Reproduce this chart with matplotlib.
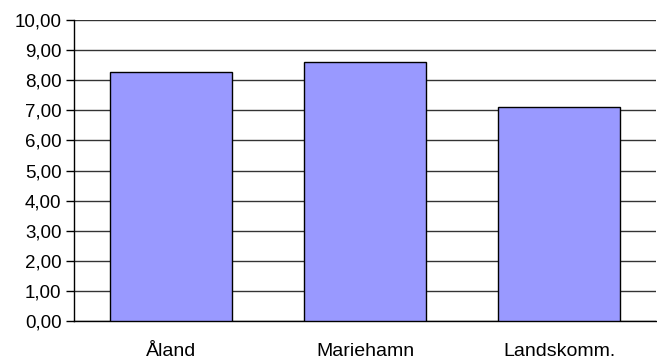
import numpy as np
import matplotlib.pyplot as plt
from matplotlib.ticker import FuncFormatter

# data
categories = ["Åland", "Mariehamn", "Landskomm."]
values = [8.26, 8.61, 7.12]
yticks = np.arange(0, 11, 1)

plt.rcParams['font.family'] = ['Liberation Sans', 'DejaVu Sans']

fig = plt.figure(figsize=(6.57, 3.61), dpi=100)
ax = fig.add_axes([0.1126, 0.1108, 0.8860, 0.8338])

x = np.arange(len(categories))
ax.bar(x, values, width=0.63, color='#9999ff', edgecolor='black', linewidth=1.0, zorder=3)

ax.set_xlim(-0.5, len(categories) - 0.5)
ax.set_ylim(0, 10)
ax.set_yticks(yticks)
ax.yaxis.set_major_formatter(FuncFormatter(lambda v, p: f"{v:.2f}".replace('.', ',')))
ax.grid(axis='y', color='#333333', linewidth=1.0, zorder=0)

ax.set_xticks(x)
ax.set_xticklabels(categories)
ax.tick_params(axis='x', length=0, pad=16, labelsize=14)
ax.tick_params(axis='y', length=6, width=1, labelsize=13.5, pad=3)

for s in ['top', 'right']:
    ax.spines[s].set_visible(False)
ax.spines['left'].set_linewidth(1.0)
ax.spines['bottom'].set_linewidth(1.0)

fig.savefig("out.png", dpi=100)
